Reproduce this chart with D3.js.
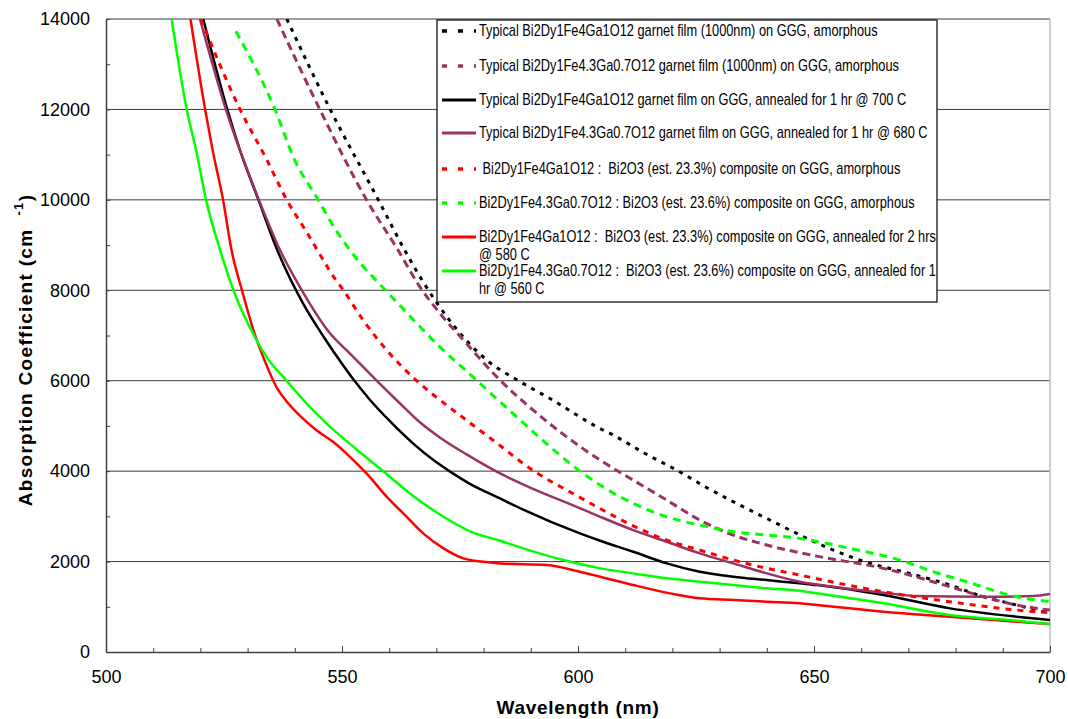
<!DOCTYPE html>
<html>
<head>
<meta charset="utf-8">
<script src="https://cdn.jsdelivr.net/npm/d3@7"></script>
<style>
  body { margin: 0; background: #fff; }
  text { font-family: "Liberation Sans", Arial, sans-serif; }
</style>
</head>
<body>
<svg id="chart" width="1068" height="719"></svg>
<script>
// data: [wavelength nm, absorption cm-1]
var blackDotted = [[538.3,14000],[547.5,12000],[557.7,10000],[563.3,8884],[567.2,8184],[573.6,7227],[580.7,6453],[587.4,6000],[594.4,5585],[604,4980],[607.5,4796],[614.2,4391],[620.9,4022],[627.6,3617],[634.3,3249],[641.4,2880],[644.9,2696],[654.1,2254],[661.2,1982],[668.9,1775],[678.8,1481],[685.9,1222],[692.9,1039],[700,855]];
var purpleDashed = [[536.2,14000],[545.3,12000],[555.2,10000],[561.9,8884],[566.5,8074],[570.8,7485],[576.4,6822],[582.8,6084],[590.5,5348],[597.6,4758],[604.7,4243],[611.7,3801],[618.8,3359],[625.8,2917],[632.9,2586],[640,2365],[650.6,2120],[664.7,1850],[678.8,1444],[685.9,1222],[692.9,1039],[700,928]];
var blackSolid = [[520.6,14000],[525.7,12000],[528.4,11094],[532.3,10000],[536.3,8884],[541.8,7700],[546,6990],[550.3,6330],[552.4,6030],[555.9,5580],[560.2,5100],[565.1,4610],[569.3,4250],[572.9,3990],[577.1,3720],[583.5,3396],[588.4,3150],[600.4,2623],[604.7,2460],[611.7,2217],[618.8,1960],[625.8,1775],[632.9,1665],[640,1591],[647,1518],[650.6,1481],[664.7,1260],[678.8,965],[692.9,780],[700,707]];
var purpleSolid = [[519.9,14000],[525.4,12000],[532.4,10000],[536.9,8884],[541.5,8000],[547.5,7043],[551.7,6601],[557.4,5996],[562.3,5496],[566.5,5080],[570.8,4740],[576.4,4370],[583.5,3949],[589.5,3653],[599.7,3211],[604.7,2990],[611.7,2696],[618.8,2438],[625.8,2181],[632.9,1960],[640,1739],[647,1554],[654.1,1444],[664.7,1311],[671.8,1238],[685.9,1222],[696.5,1238],[700,1282]];
var redDashed = [[520.1,14000],[528.4,12000],[534,10900],[538.3,10000],[542.5,9289],[548.5,8259],[550.3,8000],[554.5,7337],[559.5,6674],[565.8,6000],[570.8,5569],[575.7,5180],[582.8,4620],[590.1,4040],[600.4,3420],[604.7,3170],[611.7,2790],[618.8,2475],[625.8,2254],[632.9,2033],[640,1850],[647,1702],[650.6,1620],[664.7,1333],[678.8,1112],[692.9,928],[700,869]];
var greenDashed = [[527.5,13730],[535.8,12000],[540,10873],[544.6,10062],[548.5,9363],[551.7,8884],[559.3,7990],[562.3,7660],[570,6822],[578.5,6011],[587,5200],[594.1,4537],[600.4,4000],[604.7,3691],[608.9,3432],[611.7,3286],[618.8,2990],[625.8,2807],[632.9,2659],[640,2586],[647,2512],[657.6,2291],[668.2,2033],[675.3,1775],[682.3,1554],[692.9,1222],[700,1112]];
var redSolid = [[517.9,14000],[521,12000],[522.6,11094],[524.8,10000],[526.6,8884],[528.8,8000],[531.7,6968],[533.4,6500],[536.4,5806],[538.6,5503],[542.5,5090],[544.6,4906],[548.1,4648],[551.7,4316],[555.2,3949],[559.5,3432],[563.7,2990],[567.2,2623],[571.5,2292],[575.7,2071],[579.9,1996],[583.5,1960],[593.4,1923],[600.4,1775],[604.7,1665],[611.7,1481],[619.5,1297],[625.8,1187],[632.9,1149],[640,1112],[647,1076],[650.6,1039],[664.7,891],[678.8,780],[692.9,670],[700,619]];
var greenSolid = [[513.9,14000],[517.1,12000],[519.1,11094],[521.2,10000],[524.2,8884],[527,8000],[531.9,6895],[534,6526],[538.3,5996],[542.5,5496],[547.5,4980],[553.1,4480],[558.8,3994],[564.4,3507],[571.5,2990],[577.1,2670],[583.5,2460],[588.4,2291],[596.9,2033],[604.7,1850],[611.7,1739],[618.8,1629],[625.8,1554],[632.9,1481],[640,1408],[647,1355],[650.6,1297],[664.7,1076],[678.8,818],[692.9,692],[700,619]];

var seriesLabels = [
  ["Typical Bi2Dy1Fe4Ga1O12 garnet film (1000nm) on GGG, amorphous"],
  ["Typical Bi2Dy1Fe4.3Ga0.7O12 garnet film (1000nm) on GGG, amorphous"],
  ["Typical Bi2Dy1Fe4Ga1O12 garnet film on GGG, annealed for 1 hr @ 700 C"],
  ["Typical Bi2Dy1Fe4.3Ga0.7O12 garnet film on GGG, annealed for 1 hr @ 680 C"],
  ["\u00a0Bi2Dy1Fe4Ga1O12 :\u00a0 Bi2O3 (est. 23.3%) composite on GGG, amorphous"],
  ["Bi2Dy1Fe4.3Ga0.7O12 : Bi2O3 (est. 23.6%) composite on GGG, amorphous"],
  ["Bi2Dy1Fe4Ga1O12 :\u00a0 Bi2O3 (est. 23.3%) composite on GGG, annealed for 2 hrs", "@ 580 C"],
  ["Bi2Dy1Fe4.3Ga0.7O12 :\u00a0 Bi2O3 (est. 23.6%) composite on GGG, annealed for 1", "hr @ 560 C"]
];

var xTicks = [500, 550, 600, 650, 700];
var yTicks = [0, 2000, 4000, 6000, 8000, 10000, 12000, 14000];

var series = [
  { data: blackDotted, color: "#000000", dash: "4,6", w: 3 },
  { data: purpleDashed, color: "#993366", dash: "8,5", w: 3 },
  { data: blackSolid, color: "#000000", dash: null, w: 2.5 },
  { data: purpleSolid, color: "#993366", dash: null, w: 2.5 },
  { data: redDashed, color: "#ff0000", dash: "6,6", w: 3 },
  { data: greenDashed, color: "#00ff00", dash: "8,6", w: 3 },
  { data: redSolid, color: "#ff0000", dash: null, w: 2.5 },
  { data: greenSolid, color: "#00ff00", dash: null, w: 2.5 }
];

var margin = { top: 19, right: 18, bottom: 67, left: 106 };
var width = 1068, height = 719;

var svg = d3.select("#chart");

var x = d3.scaleLinear().domain([500, 700]).range([margin.left, width - margin.right]);
var y = d3.scaleLinear().domain([0, 14000]).range([height - margin.bottom, margin.top]);

// grid lines
svg.append("g")
  .selectAll("line")
  .data(yTicks.slice(1))
  .enter()
  .append("line")
  .attr("x1", x(500)).attr("x2", x(700))
  .attr("y1", function(d) { return y(d); })
  .attr("y2", function(d) { return y(d); })
  .attr("stroke", "#3a3a3a")
  .attr("stroke-width", 1);

// right border
svg.append("line")
  .attr("x1", x(700)).attr("x2", x(700))
  .attr("y1", y(14000)).attr("y2", y(0))
  .attr("stroke", "#c0c0c0").attr("stroke-width", 1.5);

// clip
svg.append("clipPath").attr("id", "clip")
  .append("rect")
  .attr("x", x(500)).attr("y", y(14000))
  .attr("width", x(700) - x(500)).attr("height", y(0) - y(14000));

var line = d3.line()
  .x(function(d) { return x(d[0]); })
  .y(function(d) { return y(d[1]); })
  .curve(d3.curveMonotoneX);

svg.append("g")
  .attr("clip-path", "url(#clip)")
  .selectAll("path")
  .data(series)
  .enter()
  .append("path")
  .attr("d", function(d) { return line(d.data); })
  .attr("fill", "none")
  .attr("stroke", function(d) { return d.color; })
  .attr("stroke-width", function(d) { return d.w; })
  .attr("stroke-dasharray", function(d) { return d.dash; });

// axes
var yMinor = d3.range(0, 14001, 1000);
var xMinor = d3.range(500, 701, 10);

svg.append("g")
  .attr("transform", "translate(" + x(500) + ",0)")
  .call(d3.axisRight(y).tickValues(yMinor).tickSize(4).tickFormat(""))
  .call(function(g) {
    g.select(".domain").remove();
    g.selectAll("line").attr("stroke", "#404040");
  });

svg.append("g")
  .attr("transform", "translate(" + x(500) + ",0)")
  .call(d3.axisLeft(y).tickValues(yTicks).tickSize(0).tickPadding(16).tickFormat(d3.format("d")))
  .call(function(g) {
    g.select(".domain").attr("stroke", "#404040").attr("stroke-width", 1.5);
    g.selectAll("text").attr("font-size", "18px").attr("fill", "#000")
      .attr("font-family", "Liberation Sans, Arial, sans-serif");
  });

svg.append("g")
  .attr("transform", "translate(0," + y(0) + ")")
  .call(d3.axisTop(x).tickValues(xMinor).tickSize(4).tickFormat(""))
  .call(function(g) {
    g.select(".domain").remove();
    g.selectAll("line").attr("stroke", "#404040");
  });

svg.append("g")
  .attr("transform", "translate(0," + y(0) + ")")
  .call(d3.axisTop(x).tickValues(xTicks).tickSize(6).tickFormat(""))
  .call(function(g) {
    g.select(".domain").remove();
    g.selectAll("line").attr("stroke", "#404040");
  });

svg.append("g")
  .attr("transform", "translate(0," + y(0) + ")")
  .call(d3.axisBottom(x).tickValues(xTicks).tickSize(0).tickPadding(18))
  .call(function(g) {
    g.select(".domain").attr("stroke", "#404040").attr("stroke-width", 1.5);
    g.selectAll("text").attr("font-size", "18px").attr("fill", "#000")
      .attr("font-family", "Liberation Sans, Arial, sans-serif");
  });

// axis titles
svg.append("text")
  .attr("x", (x(500) + x(700)) / 2)
  .attr("y", 714)
  .attr("text-anchor", "middle")
  .attr("font-size", "19px")
  .attr("font-weight", "bold")
  .attr("letter-spacing", "0.7px")
  .text("Wavelength (nm)");

var yt = svg.append("text")
  .attr("transform", "translate(32,350) rotate(-90)")
  .attr("text-anchor", "middle")
  .attr("font-size", "19px")
  .attr("font-weight", "bold")
  .attr("letter-spacing", "1.3px");
yt.append("tspan").text("Absorption Coefficient (cm\u00a0\u00a0");
yt.append("tspan").attr("font-size", "13px").attr("dy", -9).text("-1");
yt.append("tspan").attr("dy", 9).text(")");

// legend
var lg = svg.append("g");
lg.append("rect")
  .attr("x", 437).attr("y", 20).attr("width", 500).attr("height", 282)
  .attr("fill", "#fff").attr("stroke", "#000").attr("stroke-width", 1.2);

var rowY = [31, 66, 100, 133, 169, 203, 237, 271];

series.forEach(function(s, i) {
  lg.append("line")
    .attr("x1", 442).attr("x2", 476)
    .attr("y1", rowY[i]).attr("y2", rowY[i])
    .attr("stroke", s.color)
    .attr("stroke-width", s.w + 0.5)
    .attr("stroke-dasharray", s.dash ? "5,11" : null);
  seriesLabels[i].forEach(function(t, j) {
    lg.append("text")
      .attr("transform", "translate(479," + (rowY[i] + 5 + j * 18) + ") scale(0.8,1)")
      .attr("font-size", "16px")
      .attr("fill", "#000")
      .style("white-space", "pre")
      .text(t);
  });
});
</script>
</body>
</html>
